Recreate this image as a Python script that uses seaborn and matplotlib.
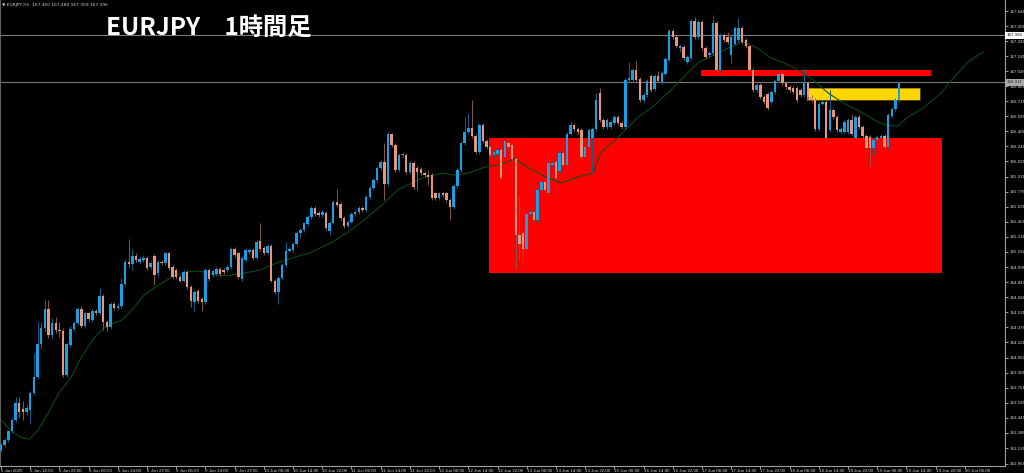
import matplotlib
matplotlib.use("Agg")
import matplotlib.pyplot as plt
import seaborn as sns
import numpy as np
import pandas as pd

# ---------------- data (EURJPY H1) ----------------
open_ = [
163.11,163.16,163.21,163.30,163.42,163.59,163.53,163.50,163.52,163.70,
163.86,164.20,164.37,164.57,164.30,164.42,164.35,164.34,163.88,164.19,
164.36,164.42,164.57,164.39,164.52,164.45,164.55,164.52,164.70,164.43,
164.38,164.62,164.58,164.60,164.82,165.05,165.03,165.11,165.05,165.07,
165.09,165.00,165.11,164.94,165.05,165.04,165.14,165.00,164.97,164.90,
164.86,164.95,164.79,164.64,164.75,164.67,164.64,164.97,164.92,164.93,
164.98,164.97,164.97,165.00,165.19,165.14,164.88,165.07,165.15,165.18,
165.09,165.27,165.20,165.14,165.22,164.86,164.74,164.89,165.02,165.17,
165.18,165.24,165.35,165.38,165.44,165.52,165.61,165.56,165.54,165.56,
165.37,165.46,165.67,165.65,165.51,165.42,165.47,165.55,165.57,165.61,
165.59,165.72,165.82,165.90,166.02,166.09,165.86,166.37,166.26,166.00,
166.16,166.16,165.98,166.08,166.02,166.01,165.97,165.95,165.95,165.76,
165.71,165.76,165.76,165.69,165.62,165.84,166.00,166.28,166.40,166.44,
166.35,166.19,166.47,166.30,166.24,166.16,166.17,166.21,166.14,166.28,
166.26,166.12,165.33,165.35,165.19,165.55,165.57,165.49,165.80,165.88,
165.76,166.05,166.09,165.99,166.18,166.05,166.38,166.47,166.43,166.42,
166.14,166.24,166.33,166.43,166.80,166.52,166.45,166.45,166.49,166.55,
166.49,166.45,166.93,166.93,167.04,166.94,166.73,166.78,166.97,166.84,
166.97,166.91,167.00,167.14,167.44,167.38,167.26,167.27,167.12,167.16,
167.54,167.38,167.53,167.26,167.19,167.21,167.52,167.04,167.40,167.38,
167.19,167.31,167.35,167.47,167.35,167.28,167.04,166.83,166.88,166.76,
166.79,166.71,166.81,166.92,167.00,166.90,166.86,166.85,166.85,166.83,
166.78,166.90,166.76,166.73,166.43,166.69,166.71,166.42,166.62,166.55,
166.40,166.40,166.40,166.52,166.33,166.55,166.45,166.35,166.34,166.23,
166.31,166.33,166.35,166.24,166.56,166.63,166.73]
high = [
163.18,163.23,163.32,163.44,163.66,163.66,163.62,163.58,163.72,164.11,
164.43,164.43,164.67,164.66,164.47,164.48,164.43,164.37,164.22,164.39,
164.44,164.59,164.60,164.54,164.54,164.57,164.57,164.78,164.72,164.45,
164.64,164.64,164.63,164.89,165.08,165.29,165.19,165.14,165.11,165.12,
165.11,165.06,165.13,165.07,165.07,165.16,165.16,165.02,164.99,164.92,
164.97,164.97,164.81,164.76,164.77,164.69,164.99,164.99,164.98,165.00,
165.00,164.99,165.02,165.21,165.21,165.16,165.11,165.20,165.20,165.20,
165.28,165.45,165.22,165.24,165.24,164.88,164.91,165.04,165.26,165.21,
165.26,165.37,165.40,165.47,165.54,165.63,165.63,165.58,165.59,165.58,
165.48,165.69,165.81,165.67,165.53,165.49,165.57,165.59,165.63,165.63,
165.74,165.84,165.92,166.04,166.11,166.28,166.40,166.39,166.28,166.18,
166.19,166.18,166.10,166.10,166.04,166.03,165.99,166.00,165.97,165.78,
165.78,165.78,165.78,165.71,165.86,166.02,166.30,166.55,166.59,166.73,
166.37,166.49,166.49,166.32,166.26,166.21,166.23,166.23,166.32,166.30,
166.28,166.14,165.73,165.37,165.66,165.59,165.59,165.82,165.97,165.90,
166.09,166.10,166.11,166.20,166.20,166.40,166.51,166.49,166.45,166.44,
166.26,166.44,166.45,166.80,166.85,166.54,166.54,166.52,166.57,166.57,
166.51,166.95,167.12,167.06,167.13,166.96,166.80,166.94,166.99,166.99,
167.03,167.03,167.17,167.46,167.46,167.40,167.31,167.29,167.19,167.56,
167.58,167.55,167.55,167.28,167.23,167.60,167.54,167.42,167.42,167.43,
167.40,167.49,167.57,167.49,167.37,167.30,167.06,166.90,166.90,166.78,
166.81,166.83,166.94,167.02,167.02,166.92,166.88,166.87,166.87,166.85,
167.05,166.92,166.78,166.75,166.71,166.73,166.73,166.83,166.64,166.57,
166.45,166.52,166.54,166.58,166.57,166.57,166.47,166.37,166.36,166.33,
166.36,166.37,166.37,166.59,166.65,166.75,166.92]
low = [
163.09,163.14,163.19,163.28,163.40,163.45,163.42,163.47,163.38,163.68,
163.84,164.15,164.33,164.27,164.26,164.32,164.28,163.86,163.86,164.17,
164.34,164.40,164.37,164.37,164.44,164.43,164.50,164.50,164.35,164.34,
164.36,164.56,164.56,164.58,164.80,165.00,164.97,165.05,165.03,165.05,
164.97,164.98,164.81,164.90,165.02,165.02,164.97,164.88,164.88,164.84,
164.84,164.77,164.59,164.55,164.63,164.55,164.62,164.86,164.90,164.91,
164.91,164.93,164.95,164.98,165.10,164.88,164.86,165.05,165.13,165.07,
165.07,165.17,165.12,165.12,164.84,164.72,164.62,164.87,165.00,165.15,
165.16,165.22,165.30,165.36,165.42,165.50,165.53,165.52,165.52,165.38,
165.33,165.44,165.62,165.49,165.40,165.40,165.45,165.53,165.55,165.57,
165.57,165.70,165.80,165.88,166.00,165.69,165.84,166.24,165.98,165.98,
166.14,165.96,165.96,165.81,165.80,165.95,165.93,165.85,165.69,165.69,
165.69,165.72,165.67,165.49,165.60,165.82,165.98,166.26,166.38,166.33,
166.17,166.17,166.28,166.22,166.14,166.14,166.15,165.90,165.74,166.22,
166.10,164.98,165.07,165.05,165.07,165.53,165.47,165.47,165.78,165.78,
165.74,166.03,165.90,165.97,166.03,166.03,166.36,166.41,166.38,166.12,
166.12,166.22,165.97,166.41,166.50,166.43,166.43,166.43,166.47,166.47,
166.43,166.43,166.91,166.91,166.91,166.71,166.71,166.76,166.81,166.82,
166.90,166.89,166.98,167.12,167.36,167.26,167.22,167.14,167.10,167.14,
167.36,167.36,167.24,167.15,167.17,167.19,166.98,167.02,167.33,167.31,
167.10,167.29,167.33,167.31,167.26,167.02,166.81,166.81,166.74,166.69,
166.62,166.69,166.79,166.90,166.88,166.84,166.81,166.79,166.71,166.76,
166.76,166.74,166.71,166.41,166.41,166.67,166.31,166.40,166.53,166.40,
166.38,166.38,166.38,166.36,166.31,166.43,166.33,166.21,166.04,166.17,
166.29,166.31,166.22,166.22,166.54,166.61,166.71]
close = [
163.16,163.21,163.30,163.42,163.59,163.50,163.50,163.54,163.70,163.86,
164.20,164.37,164.57,164.30,164.42,164.35,164.34,163.88,164.20,164.36,
164.42,164.57,164.39,164.52,164.46,164.55,164.52,164.70,164.43,164.38,
164.62,164.58,164.60,164.82,165.05,165.03,165.11,165.07,165.08,165.09,
164.99,165.04,164.92,165.05,165.04,165.14,164.99,164.90,164.90,164.86,
164.95,164.79,164.65,164.74,164.65,164.64,164.97,164.88,164.96,164.98,
164.93,164.95,165.00,165.19,165.12,164.90,165.09,165.18,165.18,165.09,
165.26,165.19,165.14,165.22,164.86,164.74,164.89,165.02,165.17,165.19,
165.24,165.35,165.38,165.45,165.52,165.61,165.55,165.54,165.57,165.40,
165.46,165.67,165.64,165.51,165.42,165.47,165.55,165.57,165.61,165.59,
165.72,165.82,165.90,166.02,166.09,165.86,166.37,166.26,166.00,166.16,
166.17,165.98,166.08,165.83,165.98,165.97,165.95,165.93,165.71,165.71,
165.76,165.74,165.69,165.62,165.84,166.00,166.28,166.40,166.44,166.35,
166.19,166.47,166.30,166.24,166.16,166.19,166.21,165.92,166.30,166.24,
166.12,165.33,165.24,165.19,165.55,165.57,165.49,165.80,165.88,165.80,
166.07,166.08,165.92,166.18,166.05,166.38,166.47,166.43,166.40,166.14,
166.24,166.42,166.43,166.73,166.52,166.45,166.52,166.50,166.55,166.49,
166.45,166.93,166.95,167.04,166.93,166.73,166.78,166.92,166.83,166.97,
166.92,167.01,167.15,167.44,167.38,167.28,167.28,167.16,167.17,167.54,
167.38,167.53,167.26,167.17,167.21,167.52,167.04,167.40,167.35,167.33,
167.38,167.47,167.47,167.33,167.28,167.04,166.83,166.88,166.76,166.71,
166.64,166.81,166.92,167.00,166.90,166.86,166.83,166.81,166.73,166.78,
166.90,166.76,166.73,166.43,166.69,166.71,166.33,166.62,166.55,166.42,
166.43,166.50,166.52,166.38,166.55,166.45,166.35,166.23,166.23,166.31,
166.34,166.35,166.24,166.57,166.63,166.73,166.90]

# moving average (drawn shifted forward, as on the chart)
ma_bar = [0, 2.7, 5.5, 7.7, 10.1, 12.9, 15.9, 19.2, 21.9, 25.5, 28.2, 31.0, 33.1,
          36.4, 39.2, 43.0, 47.4, 51.2, 54.0, 58.3, 62.2, 65.7, 71.2, 74.0, 79.4,
          84.9, 90.4, 95.0, 98.6, 104.9, 108.7, 111.5, 115.9, 121.1, 124.1, 127.9,
          132.3, 137.8, 140.5, 145.2, 149.8, 153.4, 158.0, 162.1, 164.3, 169.0,
          174.5, 178.0, 183.5, 188.2, 191.2, 195.3, 199.1, 203.2, 207.3, 210.9,
          214.5, 217.2, 221.9, 226.5, 230.9, 235.6, 240.2, 242.9, 245.7, 248.4,
          252.8, 257.5, 261.0, 264.9, 268.4, 269.2]
ma_val = [163.42, 163.31, 163.24, 163.22, 163.31, 163.49, 163.70, 163.86, 164.06,
          164.27, 164.37, 164.42, 164.45, 164.58, 164.71, 164.81, 164.91, 164.95,
          164.96, 164.92, 164.91, 164.93, 164.97, 165.02, 165.09, 165.15, 165.25,
          165.36, 165.46, 165.66, 165.80, 165.85, 165.93, 165.97, 165.95, 165.97,
          166.03, 166.07, 166.12, 166.01, 165.92, 165.87, 165.93, 165.97, 166.18,
          166.34, 166.55, 166.64, 166.83, 167.01, 167.12, 167.19, 167.26, 167.33,
          167.26, 167.16, 167.11, 167.06, 166.95, 166.80, 166.69, 166.60, 166.50,
          166.46, 166.46, 166.55, 166.65, 166.80, 166.96, 167.12, 167.21, 167.22]

# zones drawn on the chart: (bar start, bar end, price low, price high)
zone_red_big = (133.7, 257.7, 164.937, 166.333)
zone_red_line = (191.7, 254.7, 166.974, 167.036)
zone_yellow = (220.8, 251.7, 166.726, 166.850)
level_lines = [167.396, 166.911]

x_labels = ["5 Jun 2025", "5 Jun 14:00", "5 Jun 22:00", "6 Jun 06:00", "6 Jun 14:00",
            "6 Jun 22:00", "9 Jun 06:00", "9 Jun 14:00", "9 Jun 22:00", "10 Jun 06:00",
            "10 Jun 14:00", "10 Jun 22:00", "11 Jun 06:00", "11 Jun 14:00", "11 Jun 22:00",
            "12 Jun 06:00", "12 Jun 14:00", "12 Jun 22:00", "13 Jun 06:00", "13 Jun 14:00",
            "13 Jun 22:00", "16 Jun 06:00", "16 Jun 14:00", "16 Jun 22:00", "17 Jun 06:00",
            "17 Jun 14:00", "17 Jun 22:00", "18 Jun 06:00", "18 Jun 14:00", "18 Jun 22:00",
            "19 Jun 06:00", "19 Jun 14:00", "19 Jun 22:00", "20 Jun 06:00"]
y_ticks = [167.646, 167.491, 167.336, 167.181, 167.026, 166.866, 166.711, 166.556,
           166.401, 166.246, 166.091, 165.931, 165.776, 165.621, 165.466, 165.311,
           165.156, 164.996, 164.841, 164.686, 164.531, 164.376, 164.221, 164.061,
           163.906, 163.751, 163.596, 163.441, 163.286, 163.126, 162.966]

title = "EURJPY\u30001時間足"
header = "\u25bc EURJPY,H1  167.460 167.480 167.359 167.396"

assert len(open_) == len(high) == len(low) == len(close)

# ---------------- drawing ----------------
sns.set_theme(style="dark")
plt.rcParams["font.family"] = ["Liberation Sans", "DejaVu Sans"]

df = pd.DataFrame({"open": open_, "high": high, "low": low, "close": close})
df["bar"] = np.arange(len(df))
df["up"] = df["close"] >= df["open"]

W, H = 1024, 473
fig = plt.figure(figsize=(W / 100, H / 100), dpi=100, facecolor="black")
ax = fig.add_axes([0, 7 / H, 1005 / W, 466 / H])
ax.set_facecolor("black")

# zones (behind candles)
for (x0, x1, y0, y1), col in [(zone_red_big, "#ff0000"), (zone_red_line, "#ff0000"),
                              (zone_yellow, "#ffd700")]:
    ax.fill_between([x0, x1], y0, y1, color=col, lw=0, zorder=1)
ax.plot([zone_yellow[0], zone_yellow[1], zone_yellow[1], zone_yellow[0], zone_yellow[0]],
        [zone_yellow[2], zone_yellow[2], zone_yellow[3], zone_yellow[3], zone_yellow[2]],
        color="#806000", lw=0.5, zorder=1.1)

for lv in level_lines:
    ax.axhline(lv, color="#7a7a7a", lw=0.8, zorder=1.5)

# moving average
sns.lineplot(x=ma_bar, y=ma_val, ax=ax, color="#0a4f10", lw=0.75, zorder=2,
             estimator=None, sort=False)

bull, bear = "#18a0e6", "#e8967a"
wick_bull, wick_bear = "#12608c", "#8c5646"
for up, body_c, wick_c in [(True, bull, wick_bull), (False, bear, wick_bear)]:
    d = df[df["up"] == up]
    ax.vlines(d["bar"], d["low"], d["high"], color=wick_c, lw=0.7, zorder=3)
    bottom = np.minimum(d["open"], d["close"])
    height = np.maximum(np.abs(d["close"] - d["open"]), 0.008)
    ax.bar(d["bar"], height, bottom=bottom, width=0.68, color=body_c, lw=0, zorder=4)

ax.set_xlim(-0.274, 275.0)
ax.set_ylim(162.943, 167.760)
ax.grid(False)

# axes styling like MT4
ax.spines["top"].set_visible(False)
ax.spines["left"].set_visible(True)
ax.spines["left"].set_color("#606060")
ax.spines["left"].set_linewidth(0.8)
ax.spines["right"].set_color("#a0a0a0")
ax.spines["right"].set_linewidth(0.8)
ax.spines["bottom"].set_color("#a0a0a0")
ax.spines["bottom"].set_linewidth(0.8)

ax.yaxis.tick_right()
ax.set_yticks(y_ticks)
ax.set_yticklabels([f"{v:.3f}" for v in y_ticks])
ax.tick_params(axis="y", colors="#d8d8d8", labelsize=3.2, length=2, width=0.5, pad=1.2,
               left=False, right=True)
ax.set_xticks(np.arange(len(x_labels)) * 8)
ax.set_xticklabels(x_labels, ha="left")
ax.tick_params(axis="x", colors="#d8d8d8", labelsize=3.2, length=2, width=0.5, pad=0.5,
               bottom=True)
ax.set_xlabel("")
ax.set_ylabel("")

# highlighted price labels on the price axis
ax.text(1.0 + 2 / 1005, level_lines[0], f"{level_lines[0]:.3f}", transform=ax.get_yaxis_transform(),
        fontsize=3.2, color="black", va="center", ha="left", zorder=6, clip_on=False,
        bbox=dict(boxstyle="square,pad=0.35", fc="white", ec="none"))
ax.text(1.0 + 2 / 1005, level_lines[1], f"{level_lines[1]:.3f}", transform=ax.get_yaxis_transform(),
        fontsize=3.2, color="#303030", va="center", ha="left", zorder=6, clip_on=False,
        bbox=dict(boxstyle="square,pad=0.35", fc="#a8a8a8", ec="none"))

# texts
fig.text(106 / W, 1 - 35 / H, title, color="white", fontsize=17.5, fontweight="bold",
         family=["Noto Sans CJK JP", "DejaVu Sans"], va="baseline", ha="left")
fig.text(2 / W, 1 - 5 / H, header, color="#d0d0d0", fontsize=3.2,
         family=["DejaVu Sans", "Noto Sans CJK JP"], va="center", ha="left")

fig.savefig("out.png", dpi=100, facecolor="black")
